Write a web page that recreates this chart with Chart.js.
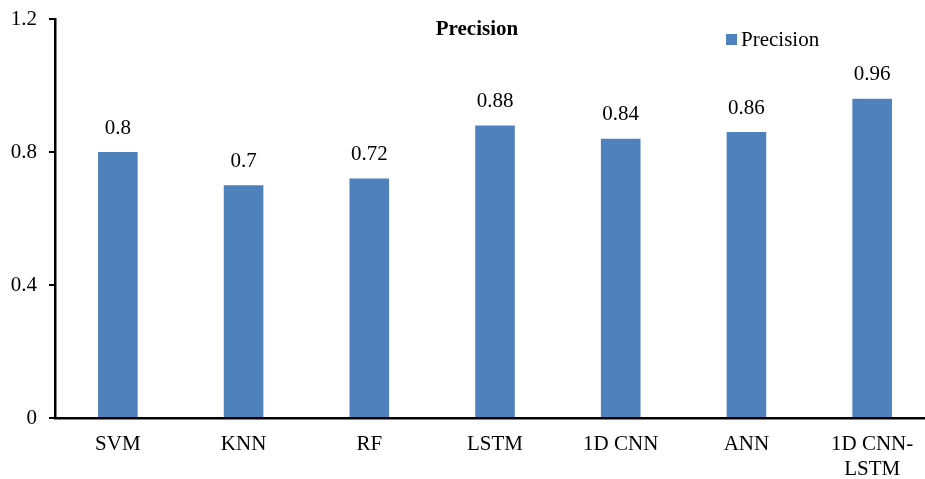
<!DOCTYPE html>
<html>
<head>
<meta charset="utf-8">
<script src="https://cdn.jsdelivr.net/npm/chart.js@4/dist/chart.umd.min.js"></script>
<style>
  html, body { margin: 0; padding: 0; background: #fff; overflow: hidden; }
  #wrap { width: 925px; height: 479px; overflow: hidden; }
  canvas { display: block; }
</style>
</head>
<body>
<div id="wrap"><canvas id="c" width="935" height="479"></canvas></div>
<script>
const categories = ['SVM', 'KNN', 'RF', 'LSTM', '1D CNN', 'ANN', ['1D CNN-', 'LSTM']];
const precisionValues = [0.8, 0.7, 0.72, 0.88, 0.84, 0.86, 0.96];
const yTicks = [0, 0.4, 0.8, 1.2];
const seriesName = 'Precision';
const chartTitle = 'Precision';

const FONT = '"Liberation Serif", "Times New Roman", serif';
const BAR_COLOR = '#4F81BD';

// Value labels above each bar, plus the title and legend drawn over the plot area
const overlay = {
  id: 'overlay',
  afterDatasetsDraw(chart) {
    const ctx = chart.ctx;
    const meta = chart.getDatasetMeta(0);
    const data = chart.data.datasets[0].data;
    ctx.save();
    ctx.fillStyle = '#000';
    ctx.font = '21px ' + FONT;
    ctx.textAlign = 'center';
    ctx.textBaseline = 'middle';
    meta.data.forEach((bar, i) => {
      ctx.fillText(String(data[i]), bar.x, bar.y - 24);
    });

    // title
    ctx.font = 'bold 21px ' + FONT;
    ctx.fillText(chartTitle, 477, 30);

    // legend
    ctx.fillStyle = BAR_COLOR;
    ctx.fillRect(726, 34, 11, 11);
    ctx.fillStyle = '#000';
    ctx.font = '21px ' + FONT;
    ctx.textAlign = 'left';
    ctx.fillText(seriesName, 741, 40);
    ctx.restore();
  }
};

new Chart(document.getElementById('c'), {
  type: 'bar',
  data: {
    labels: categories,
    datasets: [{
      label: seriesName,
      data: precisionValues,
      backgroundColor: BAR_COLOR,
      borderWidth: 0,
      categoryPercentage: 1,
      barPercentage: 0.315
    }]
  },
  options: {
    responsive: false,
    animation: false,
    layout: { padding: { top: 19, right: 0, left: 0, bottom: 0 } },
    plugins: {
      legend: { display: false },
      title: { display: false },
      tooltip: { enabled: false }
    },
    scales: {
      x: {
        grid: { display: false, drawTicks: false },
        border: { display: true, color: '#000', width: 2.5 },
        ticks: {
          color: '#000',
          font: { family: FONT, size: 21 },
          padding: 14,
          maxRotation: 0,
          autoSkip: false
        },
        afterFit(scale) {
          scale.height = 61;
          scale.paddingLeft = 0;
          scale.paddingRight = 0;
        }
      },
      y: {
        min: 0,
        max: 1.2,
        afterBuildTicks(scale) { scale.ticks = yTicks.map(v => ({ value: v })); },
        grid: { drawOnChartArea: false, drawTicks: true, tickLength: 6, color: '#000', lineWidth: 2 },
        border: { display: true, color: '#000', width: 2.5 },
        ticks: {
          color: '#000',
          font: { family: FONT, size: 21 },
          padding: 12,
          callback: v => String(v)
        },
        afterFit(scale) {
          scale.width = 55;
          scale.paddingTop = 0;
          scale.paddingBottom = 0;
        }
      }
    }
  },
  plugins: [overlay]
});
</script>
</body>
</html>
